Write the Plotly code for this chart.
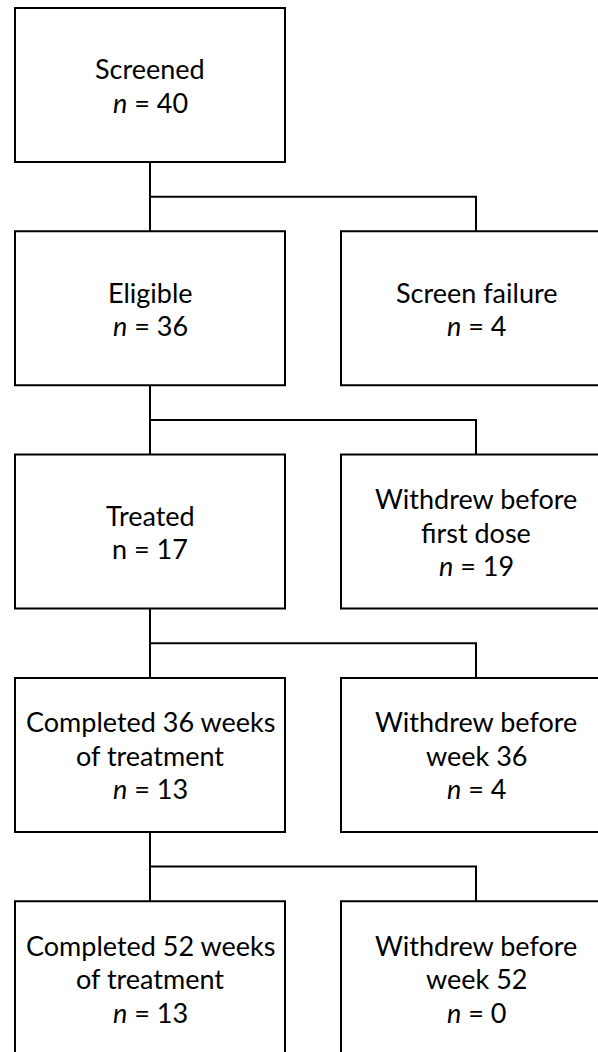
import plotly.graph_objects as go

# ---- data ----
left_labels = [["Screened"], ["Eligible"], ["Treated"],
               ["Completed 36 weeks", "of treatment"],
               ["Completed 52 weeks", "of treatment"]]
left_n = [40, 36, 17, 13, 13]
left_italic_n = [True, True, False, True, True]

right_labels = [None, ["Screen failure"], ["Withdrew before", "first dose"],
                ["Withdrew before", "week 36"], ["Withdrew before", "week 52"]]
right_n = [None, 4, 19, 4, 0]

# ---- layout constants (pixels) ----
W, H = 598, 1052
row_top0, row_step, box_h = 8, 223.3, 154
left_x0, left_x1 = 15, 285
right_x0, right_x1 = 341, 611
line_gap = 33.5
font_family = "Lato, 'Open Sans', sans-serif"
font_size = 27
lw = 2

fig = go.Figure()
shapes = []
annotations = []


def n_text(n, italic):
    return ("<i>n</i>" if italic else "n") + f" = {n}"


def add_box(x0, x1, top, lines):
    shapes.append(dict(type="rect", x0=x0, x1=x1, y0=top, y1=top + box_h,
                       xref="x", yref="y", line=dict(color="black", width=lw),
                       fillcolor="white", layer="above"))
    cy = top + box_h / 2 + 0.5
    k = len(lines)
    for i, t in enumerate(lines):
        y = cy + (i - (k - 1) / 2) * line_gap
        annotations.append(dict(x=(x0 + x1) / 2, y=y, xref="x", yref="y", text=t,
                                showarrow=False, xanchor="center", yanchor="middle",
                                font=dict(family=font_family, size=font_size,
                                          color="black")))


for r in range(len(left_labels)):
    top = row_top0 + r * row_step
    add_box(left_x0, left_x1, top,
            left_labels[r] + [n_text(left_n[r], left_italic_n[r])])
    if right_labels[r] is not None:
        add_box(right_x0, right_x1, top,
                right_labels[r] + [n_text(right_n[r], True)])
    # connectors from this row to next
    if r + 1 < len(left_labels):
        bottom = top + box_h
        next_top = row_top0 + (r + 1) * row_step
        mid = (bottom + next_top) / 2
        cxl = (left_x0 + left_x1) / 2
        cxr = (right_x0 + right_x1) / 2
        shapes.append(dict(type="line", x0=cxl, x1=cxl, y0=bottom, y1=next_top,
                           xref="x", yref="y", line=dict(color="black", width=lw)))
        shapes.append(dict(type="path",
                           path=f"M {cxl},{mid} L {cxr},{mid} L {cxr},{next_top}",
                           xref="x", yref="y", line=dict(color="black", width=lw)))

fig.update_layout(
    width=W, height=H,
    margin=dict(l=0, r=0, t=0, b=0),
    paper_bgcolor="white", plot_bgcolor="white",
    shapes=shapes, annotations=annotations,
    xaxis=dict(range=[0, W], visible=False, fixedrange=True),
    yaxis=dict(range=[H, 0], visible=False, fixedrange=True),
    showlegend=False,
)

fig.write_html("out.html",
               config={"displayModeBar": False, "staticPlot": True},
               post_script="document.body.style.margin='0';"
                           "document.body.style.overflow='hidden';")
